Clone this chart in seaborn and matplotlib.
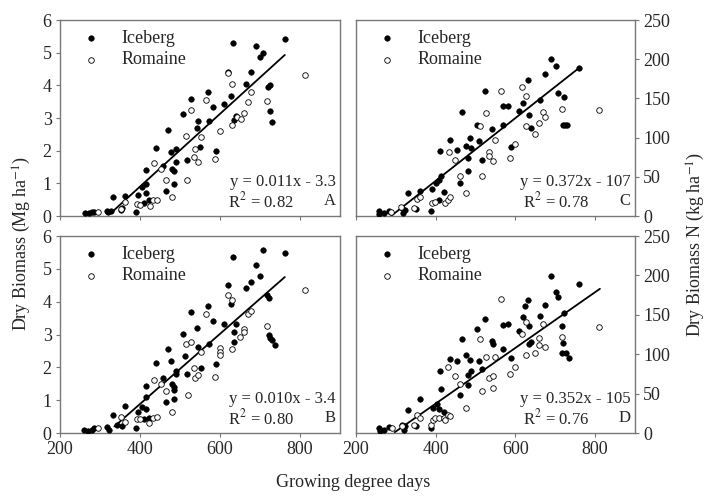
import numpy as np
import pandas as pd
import matplotlib
matplotlib.use("Agg")
import matplotlib.pyplot as plt
import seaborn as sns

# ---- data (growing degree days vs biomass) ----
# Panel A: dry biomass (Mg/ha)
a_ice_x = [262, 273, 281, 286, 317, 321, 327, 333, 352, 355, 363, 391, 394, 404, 414, 415, 415, 411, 423,
           439, 457, 465, 469, 477, 481, 485, 484, 489, 490, 507, 517, 527, 543, 546, 551, 569, 572, 583,
           589, 611, 619, 627, 633, 634, 639, 664, 677, 689, 701, 708, 719, 725, 724, 731, 762]
a_ice_y = [0.08, 0.08, 0.11, 0.13, 0.16, 0.12, 0.16, 0.57, 0.18, 0.25, 0.61, 0.11, 0.65, 0.88, 0.97, 0.71,
           1.42, 0.39, 0.49, 2.08, 1.53, 0.77, 2.64, 1.95, 1.44, 1.37, 0.99, 2.04, 1.66, 3.12, 1.71, 3.58,
           2.68, 2.91, 2.12, 3.81, 2.92, 3.35, 1.99, 3.43, 4.40, 3.67, 5.29, 2.95, 3.05, 4.05, 4.41, 5.20,
           4.88, 4.98, 3.94, 4.01, 3.20, 2.89, 5.42]
a_rom_x = [294, 352, 362, 393, 400, 425, 433, 442, 435, 452, 465, 479, 514, 518, 527, 536, 537, 546, 552,
           564, 588, 600, 619, 629, 629, 642, 653, 659, 671, 677, 717, 812]
a_rom_y = [0.11, 0.20, 0.42, 0.37, 0.35, 0.31, 0.49, 0.49, 1.61, 1.43, 1.10, 0.57, 2.45, 1.10, 3.23, 1.80,
           2.06, 1.64, 2.43, 3.54, 1.73, 2.60, 4.37, 4.03, 2.78, 3.02, 2.96, 3.14, 3.48, 3.81, 3.52, 4.32]

# Panel B: dry biomass (Mg/ha)
b_ice_x = [260, 271, 279, 286, 317, 323, 333, 342, 354, 363, 390, 394, 404, 415, 414, 414, 410, 423, 439,
           457, 465, 469, 477, 481, 485, 485, 484, 489, 490, 507, 512, 517, 527, 543, 544, 552, 569, 572,
           583, 589, 611, 620, 627, 633, 636, 636, 640, 665, 677, 689, 701, 707, 717, 723, 722, 726, 731,
           737, 762]
b_ice_y = [0.08, 0.07, 0.10, 0.15, 0.17, 0.10, 0.56, 0.25, 0.20, 0.81, 0.15, 0.63, 0.78, 0.73, 1.10, 1.42,
           0.44, 0.46, 2.13, 1.68, 0.94, 2.57, 2.19, 1.48, 1.39, 1.30, 1.05, 1.88, 1.80, 3.03, 2.34, 1.80,
           3.68, 3.20, 2.62, 1.99, 3.87, 2.72, 3.41, 2.09, 3.33, 4.50, 3.92, 5.37, 3.08, 2.76, 3.31, 4.43,
           4.61, 5.12, 4.79, 5.56, 4.19, 4.10, 3.00, 2.90, 2.82, 2.68, 5.49]
b_rom_x = [294, 352, 362, 393, 400, 423, 433, 442, 436, 452, 465, 479, 514, 519, 527, 536, 537, 546, 552,
           564, 588, 600, 600, 600, 619, 629, 629, 651, 659, 659, 671, 677, 717, 812]
b_rom_y = [0.14, 0.48, 0.35, 0.44, 0.42, 0.31, 0.46, 0.48, 1.62, 1.48, 1.29, 0.63, 2.70, 1.15, 2.76, 1.98,
           1.68, 1.76, 2.46, 3.62, 1.72, 2.59, 2.47, 2.37, 4.20, 4.04, 2.57, 2.92, 3.17, 3.08, 3.63, 3.71,
           3.25, 4.37]

# Panel C: dry biomass N (kg/ha)
c_ice_x = [258, 258, 271, 282, 316, 319, 322, 331, 350, 361, 387, 391, 401, 407, 413, 412, 409, 420, 436,
           454, 462, 466, 476, 481, 481, 487, 488, 504, 509, 515, 524, 542, 568, 581, 569, 588, 609, 618,
           632, 634, 639, 662, 674, 688, 701, 706, 722, 720, 725, 730, 760]
c_ice_y = [5.9, 2.5, 3.4, 6.8, 9.7, 3.4, 7.6, 29.7, 8.5, 32.2, 6.8, 33.9, 41.9, 45.8, 51.3, 83.5, 20.3, 30.1,
           97.5, 83.9, 41.5, 132.6, 89.4, 74.6, 57.2, 100.0, 86.9, 115.7, 95.3, 71.2, 159.3, 111.4, 140.7,
           140.7, 115.7, 88.1, 133.9, 144.5, 174.1, 128.4, 112.7, 147.5, 181.3, 200.4, 190.7, 157.2, 152.1,
           116.1, 116.1, 116.1, 189.0]
c_rom_x = [289, 314, 346, 352, 360, 391, 397, 423, 431, 437, 433, 449, 462, 477, 512, 517, 525, 533, 533,
           544, 548, 563, 587, 598, 616, 626, 627, 650, 659, 669, 675, 717, 810]
c_rom_y = [5.5, 11.9, 9.7, 21.2, 23.7, 16.9, 18.2, 16.1, 20.3, 23.7, 81.8, 71.2, 51.3, 28.8, 114.4, 51.3,
           131.3, 81.8, 76.7, 70.3, 97.0, 158.9, 74.6, 91.5, 164.4, 152.5, 114.8, 105.1, 119.1, 132.2, 126.3,
           136.4, 135.2]

# Panel D: dry biomass N (kg/ha)
d_ice_x = [258, 260, 271, 282, 316, 321, 322, 331, 350, 361, 387, 392, 402, 407, 413, 412, 420, 436, 454,
           462, 466, 476, 481, 481, 487, 488, 504, 509, 515, 524, 541, 543, 569, 569, 581, 588, 609, 618,
           624, 632, 634, 635, 639, 662, 674, 688, 701, 706, 722, 716, 720, 718, 727, 735, 760]
d_ice_y = [6.8, 3.0, 4.3, 8.1, 10.2, 4.3, 8.5, 29.0, 9.4, 42.6, 6.8, 32.0, 36.6, 30.7, 55.4, 79.2, 26.4,
           94.5, 91.1, 47.7, 119.7, 98.8, 74.1, 60.5, 92.8, 78.8, 131.6, 92.0, 80.9, 144.8, 117.1, 112.4,
           106.5, 137.1, 138.0, 95.4, 129.5, 146.9, 161.8, 169.1, 135.4, 112.4, 115.0, 149.1, 162.7, 198.9,
           178.9, 172.9, 152.9, 135.4, 114.1, 101.0, 102.0, 95.4, 189.5]
d_rom_x = [291, 316, 346, 352, 360, 388, 392, 397, 407, 420, 424, 431, 437, 432, 449, 462, 477, 512, 517,
           525, 533, 543, 543, 548, 563, 587, 598, 616, 626, 627, 650, 658, 659, 669, 675, 716, 810]
d_rom_y = [6.8, 9.4, 10.0, 23.0, 19.6, 10.2, 17.0, 19.6, 18.7, 19.2, 16.6, 23.0, 22.1, 83.9, 72.8, 62.6,
           31.9, 119.7, 53.2, 96.7, 70.3, 72.4, 57.5, 96.7, 169.9, 74.5, 83.5, 125.6, 140.5, 98.8, 101.8,
           120.1, 111.6, 138.0, 109.5, 121.8, 134.2]

# fitted lines (end points as drawn) and the printed equations
fit_x = {"A": [329, 762], "B": [336, 762], "C": [288, 760], "D": [297, 812]}
fit_y = {"A": [0.11, 4.93], "B": [0.20, 4.75], "C": [0.0, 189.0], "D": [0.9, 183.0]}
equations = {"A": "y = 0.011x - 3.3", "B": "y = 0.010x - 3.4",
             "C": "y = 0.372x - 107", "D": "y = 0.352x - 105"}
r2_text = {"A": "R$^2$ = 0.82", "B": "R$^2$ = 0.80", "C": "R$^2$ = 0.78", "D": "R$^2$ = 0.76"}

panels = {
    "A": (a_ice_x, a_ice_y, a_rom_x, a_rom_y),
    "B": (b_ice_x, b_ice_y, b_rom_x, b_rom_y),
    "C": (c_ice_x, c_ice_y, c_rom_x, c_rom_y),
    "D": (d_ice_x, d_ice_y, d_rom_x, d_rom_y),
}

sns.set_style("ticks")
plt.rcParams['font.family'] = ['Liberation Serif', 'DejaVu Serif']
plt.rcParams['mathtext.fontset'] = 'stix'

fig = plt.figure(figsize=(7.07, 4.98), dpi=100)
W, H = 707, 498
boxes = {"A": (60, 20, 340, 216), "C": (356, 20, 635, 216),
         "B": (60, 236, 340, 433), "D": (356, 236, 635, 433)}
frame_col = "#777777"

for key, (x0, y0, x1, y1) in boxes.items():
    ax = fig.add_axes([x0 / W, 1 - y1 / H, (x1 - x0) / W, (y1 - y0) / H])
    ix, iy, rx, ry = panels[key]
    ice = pd.DataFrame({"gdd": ix, "val": iy})
    rom = pd.DataFrame({"gdd": rx, "val": ry})
    sns.scatterplot(data=ice, x="gdd", y="val", ax=ax, s=16, color="black",
                    edgecolor="black", linewidth=0.4, label="Iceberg", zorder=3)
    sns.scatterplot(data=rom, x="gdd", y="val", ax=ax, s=16, facecolor="white",
                    edgecolor="black", linewidth=0.6, label="Romaine", zorder=3)
    sns.lineplot(x=fit_x[key], y=fit_y[key], ax=ax, color="black", linewidth=1.3, zorder=2)

    ax.set_xlim(200, 900)
    ax.set_xticks([200, 400, 600, 800])
    if key in ("A", "B"):
        ax.set_ylim(0, 6)
        ax.set_yticks(range(0, 7))
    else:
        ax.set_ylim(0, 250)
        ax.set_yticks(range(0, 251, 50))
        ax.yaxis.tick_right()
    if key in ("A", "C"):
        ax.set_xticklabels([])
    ax.set_xlabel("")
    ax.set_ylabel("")
    for sp in ax.spines.values():
        sp.set_visible(True)
        sp.set_color(frame_col)
        sp.set_linewidth(1.0)
    ax.tick_params(direction="out", length=3, width=0.8, color=frame_col,
                   labelsize=13, pad=3)

    ax.legend(loc="upper left", bbox_to_anchor=(0.077, 0.95), frameon=False,
              borderaxespad=0, borderpad=0, handlelength=1.0, handletextpad=1.2,
              labelspacing=0.25, fontsize=13, markerscale=1.0)

    ax.text(0.985, 0.175, equations[key], transform=ax.transAxes, ha="right",
            va="center", fontsize=12)
    ax.text(0.60, 0.075, r2_text[key], transform=ax.transAxes, ha="left",
            va="center", fontsize=12)
    ax.text(0.985, 0.075, key, transform=ax.transAxes, ha="right",
            va="center", fontsize=12)

fig.text(353 / W, 1 - 482 / H, "Growing degree days", ha="center", va="center", fontsize=13)
fig.text(22 / W, 0.51, "Dry Biomass (Mg ha$^{-1}$)", rotation=90, ha="center",
         va="center", fontsize=13)
fig.text(696 / W, 0.51, "Dry Biomass N (kg ha$^{-1}$)", rotation=90, ha="center",
         va="center", fontsize=13)

fig.savefig("out.png", dpi=100)
